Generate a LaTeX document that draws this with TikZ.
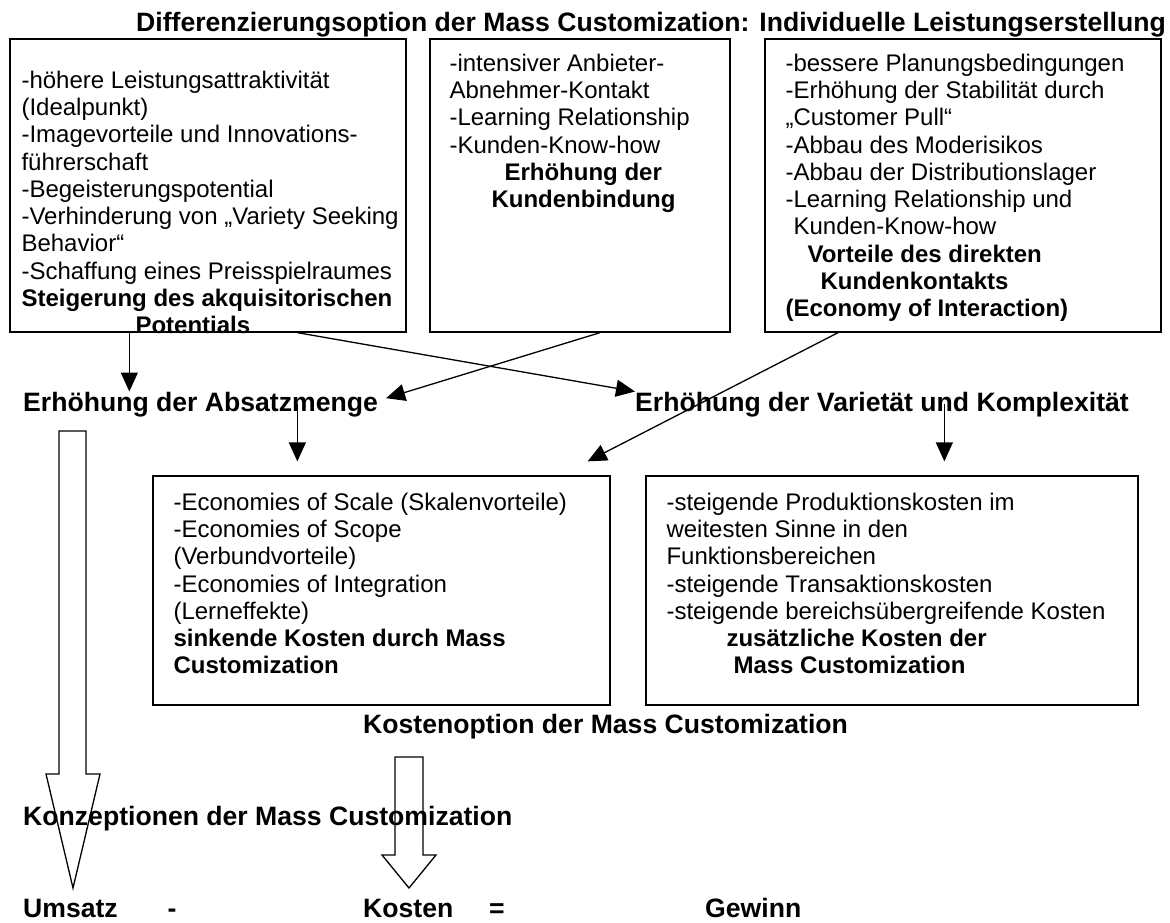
\documentclass[tikz,border=0pt]{standalone}
\usepackage{fontspec}
\setmainfont{Liberation Sans}
\usetikzlibrary{positioning, arrows.meta, calc, fit}

\begin{document}
\begin{tikzpicture}[
    x=1pt, y=-1pt,
    kasten/.style={draw, line width=1.3pt, inner sep=0pt},
    liste/.style={anchor=north west, inner sep=0pt, align=left,
        font=\fontsize{24}{27.3}\selectfont},
    kopf/.style={anchor=base west, inner sep=0pt,
        font=\fontsize{26.6}{30}\selectfont\bfseries},
    pfeil/.style={-{Triangle[length=19pt, width=17pt]}, line width=1.3pt},
    hohlpfeil/.style={line width=1.3pt, line join=miter}
]
\useasboundingbox (0,0) rectangle (1170,922);

% ------------------------------------------------------------------------------
% 1. DIFFERENZIERUNGSOPTION (obere Kaesten)
% ------------------------------------------------------------------------------
\node[kopf] (titel) at (136,31.5) {Differenzierungsoption der Mass Customization: Individuelle Leistungserstellung};

\node[kasten, fit={(10,39) (406,332)}] (b1) {};
\node[kasten, fit={(430,39) (730,332)}] (b2) {};
\node[kasten, fit={(765,39) (1161,332)}] (b3) {};

\node[liste] (t1) at ([xshift=12pt, yshift=-30.5pt]b1.north west) {\strut-höhere Leistungsattraktivität\\
(Idealpunkt)\\
-Imagevorteile und Innovations-\\
führerschaft\\
-Begeisterungspotential\\
-Verhinderung von „Variety Seeking\\
Behavior“\\
-Schaffung eines Preisspielraumes\\
\textbf{Steigerung des akquisitorischen}\\
\hspace*{114pt}\textbf{Potentials}};

\node[liste] (t2) at ([xshift=20pt, yshift=-13.5pt]b2.north west) {\strut-intensiver Anbieter-\\
Abnehmer-Kontakt\\
-Learning Relationship\\
-Kunden-Know-how\\
\hspace*{55pt}\textbf{Erhöhung der}\\
\hspace*{42pt}\textbf{Kundenbindung}};

\node[liste] (t3) at ([xshift=21pt, yshift=-13.5pt]b3.north west) {\strut-bessere Planungsbedingungen\\
-Erhöhung der Stabilität durch\\
„Customer Pull“\\
-Abbau des Moderisikos\\
-Abbau der Distributionslager\\
-Learning Relationship und\\
\hspace*{8pt}Kunden-Know-how\\
\hspace*{22pt}\textbf{Vorteile des direkten}\\
\hspace*{35pt}\textbf{Kundenkontakts}\\
\textbf{(Economy of Interaction)}};

% ------------------------------------------------------------------------------
% 2. WIRKUNGEN
% ------------------------------------------------------------------------------
\node[kopf] (absatz) at (23,411) {Erhöhung der Absatzmenge};
\node[kopf] (varietaet) at (635,411) {Erhöhung der Varietät und Komplexität};

% ------------------------------------------------------------------------------
% 3. KOSTENOPTION (untere Kaesten)
% ------------------------------------------------------------------------------
\node[kasten, fit={(153,476) (610,705)}] (b4) {};
\node[kasten, fit={(646,476) (1138,705)}] (b5) {};

\node[liste] (t4) at ([xshift=21pt, yshift=-15.5pt]b4.north west) {\strut-Economies of Scale (Skalenvorteile)\\
-Economies of Scope\\
(Verbundvorteile)\\
-Economies of Integration\\
(Lerneffekte)\\
\textbf{sinkende Kosten durch Mass}\\
\textbf{Customization}};

\node[liste] (t5) at ([xshift=21pt, yshift=-15.5pt]b5.north west) {\strut-steigende Produktionskosten im\\
weitesten Sinne in den\\
Funktionsbereichen\\
-steigende Transaktionskosten\\
-steigende bereichsübergreifende Kosten\\
\hspace*{60pt}\textbf{zusätzliche Kosten der}\\
\hspace*{67pt}\textbf{Mass Customization}};

\node[kopf] (kostenopt) at (363,733) {Kostenoption der Mass Customization};
\node[kopf] (konzept) at (23,825) {Konzeptionen der Mass Customization};

% Gleichung
\node[kopf] (umsatz) at (23,917) {Umsatz};
\node[kopf, anchor=base] (minus) at (172,917) {-};
\node[kopf] (kosten) at (363,917) {Kosten};
\node[kopf, anchor=base] (gleich) at (497,917) {=};
\node[kopf] (gewinn) at (705,917) {Gewinn};

% ------------------------------------------------------------------------------
% 4. PFEILE
% ------------------------------------------------------------------------------
\coordinate (a1) at ([xshift=120pt]b1.south west);
\coordinate (a2) at ([xshift=288pt]b1.south west);
\coordinate (a5) at ([xshift=145pt, yshift=14pt]b4.north west);
\coordinate (a6) at ([xshift=299pt, yshift=14pt]b5.north west);

\draw[pfeil] (a1) -- (absatz.north -| a1);
\draw[pfeil] (a2) -- (varietaet.north west);
\draw[pfeil] ([xshift=20pt]b2.south) -- ([xshift=8pt, yshift=6pt]absatz.east);
\draw[pfeil] ([xshift=-125pt]b3.south) -- ([xshift=-23pt, yshift=14pt]b4.north east);
\draw[pfeil] (absatz.center -| a5) -- (a5);
\draw[pfeil] (varietaet.center -| a6) -- (a6);

% Blockpfeile zu Umsatz und Kosten
\draw[hohlpfeil] (59,431) -- (86,431) -- (86,774) -- (100,774) -- (73,888) -- (46,774) -- (59,774) -- cycle;
\draw[hohlpfeil] (395,757) -- (423,757) -- (423,855) -- (436,855) -- (409,888) -- (382,855) -- (395,855) -- cycle;

\end{tikzpicture}
\end{document}
